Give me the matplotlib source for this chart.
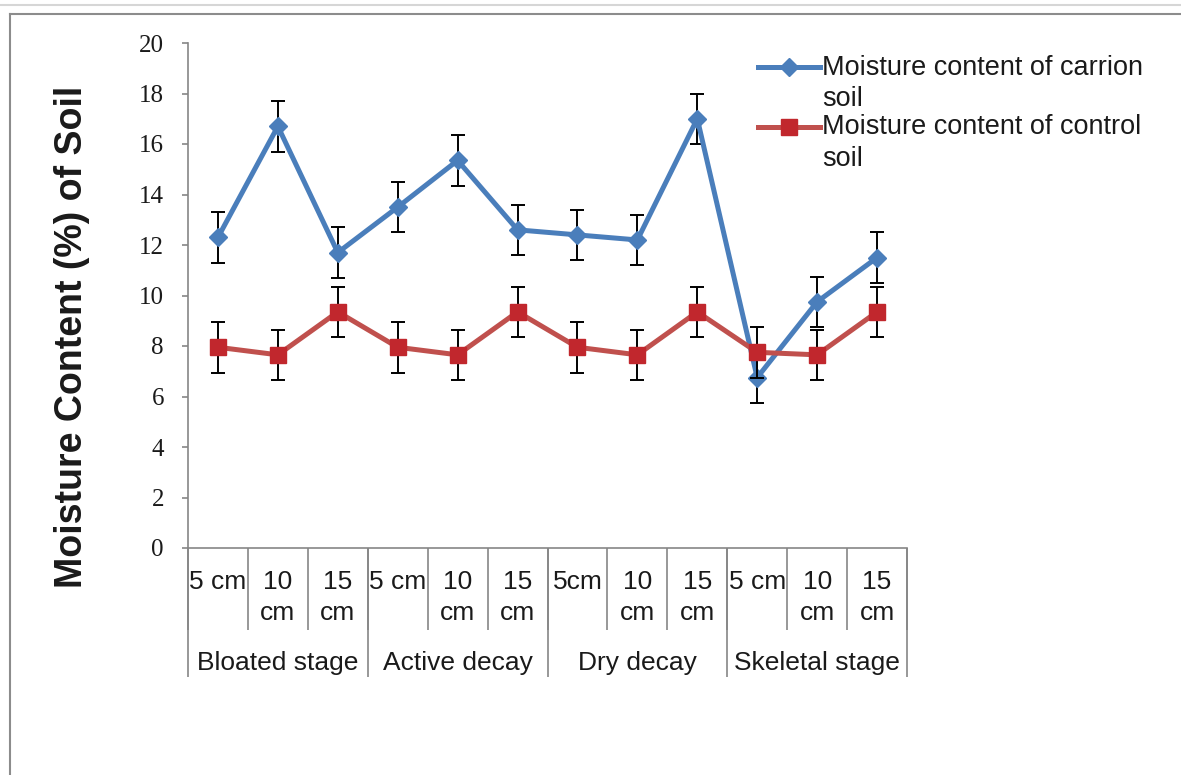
import numpy as np
import matplotlib
matplotlib.use("Agg")
import matplotlib.pyplot as plt
from matplotlib.lines import Line2D
from matplotlib.legend_handler import HandlerLine2D

# ---------------- data ----------------
depths = ["5 cm", "10\ncm", "15\ncm", "5 cm", "10\ncm", "15\ncm",
          "5cm", "10\ncm", "15\ncm", "5 cm", "10\ncm", "15\ncm"]
stages = ["Bloated stage", "Active decay", "Dry decay", "Skeletal stage"]
carrion = [12.3, 16.7, 11.7, 13.5, 15.35, 12.6, 12.4, 12.2, 17.0, 6.75, 9.75, 11.5]
carrion_err = [1.0, 1.0, 1.0, 1.0, 1.0, 1.0, 1.0, 1.0, 1.0, 1.0, 1.0, 1.0]
control = [7.95, 7.65, 9.35, 7.95, 7.65, 9.35, 7.95, 7.65, 9.35, 7.75, 7.65, 9.35]
control_err = [1.0, 1.0, 1.0, 1.0, 1.0, 1.0, 1.0, 1.0, 1.0, 1.0, 1.0, 1.0]
series_labels = ["Moisture content of carrion\nsoil", "Moisture content of control\nsoil"]
y_ticks = [0, 2, 4, 6, 8, 10, 12, 14, 16, 18, 20]
y_label = "Moisture Content (%) of Soil"

plt.rcParams['font.family'] = ['Liberation Sans', 'DejaVu Sans']

BLUE = '#4a7ebb'
RED_LINE = '#c0504d'
RED_MK = '#c1272d'
GRAY = '#868686'

W, H = 1181, 775
fig = plt.figure(figsize=(W / 100, H / 100), dpi=100)
ax = fig.add_axes([188 / W, 227 / H, (907 - 188) / W, (548 - 43) / H])

x = np.arange(len(depths))
n_per = len(depths) // len(stages)

eb1 = ax.errorbar(x, carrion, yerr=carrion_err, color=BLUE, lw=3.6, marker='D', ms=9.5,
                  mfc=BLUE, mec=BLUE, ecolor='black', elinewidth=1.4, capsize=5,
                  capthick=1.4, clip_on=False, zorder=3)
eb2 = ax.errorbar(x, control, yerr=control_err, color=RED_LINE, lw=3.6, marker='s', ms=11,
                  mfc=RED_MK, mec=RED_MK, ecolor='black', elinewidth=1.4, capsize=5,
                  capthick=1.4, clip_on=False, zorder=4)

ax.set_xlim(-0.5, len(depths) - 0.5)
ax.set_ylim(y_ticks[0], y_ticks[-1])

for s in ['top', 'right']:
    ax.spines[s].set_visible(False)
for s in ['left', 'bottom']:
    ax.spines[s].set_color(GRAY)
    ax.spines[s].set_linewidth(1.2)

ax.set_yticks(y_ticks)
ax.set_yticklabels([str(v) for v in y_ticks], family='Liberation Serif', fontsize=18)
ax.tick_params(axis='y', direction='out', length=4.3, width=1.2, color=GRAY, pad=13,
               labelcolor='#1a1a1a')

# depth labels + inner dividers
ax.set_xticks(x)
ax.set_xticklabels(depths, fontsize=19, linespacing=1.37)
ax.tick_params(axis='x', which='major', length=0, pad=16, labelcolor='#1a1a1a')
bounds = np.arange(len(depths) + 1) - 0.5
ax.set_xticks(bounds, minor=True)
ax.tick_params(axis='x', which='minor', direction='out', length=59, width=1.2, color=GRAY)

# stage labels + group dividers
sec = ax.secondary_xaxis('bottom')
sec.set_xticks([i * n_per + (n_per - 1) / 2 for i in range(len(stages))])
sec.set_xticklabels(stages, fontsize=19)
sec.tick_params(axis='x', which='major', length=0, pad=74, labelcolor='#1a1a1a')
sec.set_xticks(bounds[::n_per], minor=True)
sec.tick_params(axis='x', which='minor', direction='out', length=93, width=1.2, color=GRAY)
sec.spines['bottom'].set_visible(False)

fig.text(72 / W, 1 - 337 / H, y_label, rotation=90, fontsize=27, fontweight='bold',
         ha='center', va='center', color='#1a1a1a')


class HandlerShift(HandlerLine2D):
    def __init__(self, shift, **kw):
        super().__init__(**kw)
        self.shift = shift

    def create_artists(self, legend, orig_handle, xdescent, ydescent, width, height,
                       fontsize, trans):
        arts = super().create_artists(legend, orig_handle, xdescent, ydescent, width,
                                      height, fontsize, trans)
        for a in arts:
            a.set_ydata(np.asarray(a.get_ydata(), float) + self.shift)
        return arts


leg = ax.legend([eb1[0], eb2[0]], series_labels, loc='upper left',
                bbox_to_anchor=(758 / W, 1 - 55 / H), bbox_transform=fig.transFigure,
                frameon=False, fontsize=19.5, handlelength=2.3, handletextpad=0.08,
                borderpad=0, borderaxespad=0, labelspacing=0.08,
                handler_map={Line2D: HandlerShift(12.0)})
for t in leg.get_texts():
    t.set_linespacing(1.26)
    t.set_color('#1a1a1a')

# outer frame decoration
fig.add_artist(Line2D([0, 1], [1 - 5 / H, 1 - 5 / H], transform=fig.transFigure,
                      color='#d6d6d6', lw=1.5))
fig.add_artist(Line2D([10 / W, 1], [1 - 14 / H, 1 - 14 / H], transform=fig.transFigure,
                      color='#8c8c8c', lw=1.5))
fig.add_artist(Line2D([10 / W, 10 / W], [1 - 14 / H, 0], transform=fig.transFigure,
                      color='#8c8c8c', lw=1.5))

fig.savefig('out.png', dpi=100)
